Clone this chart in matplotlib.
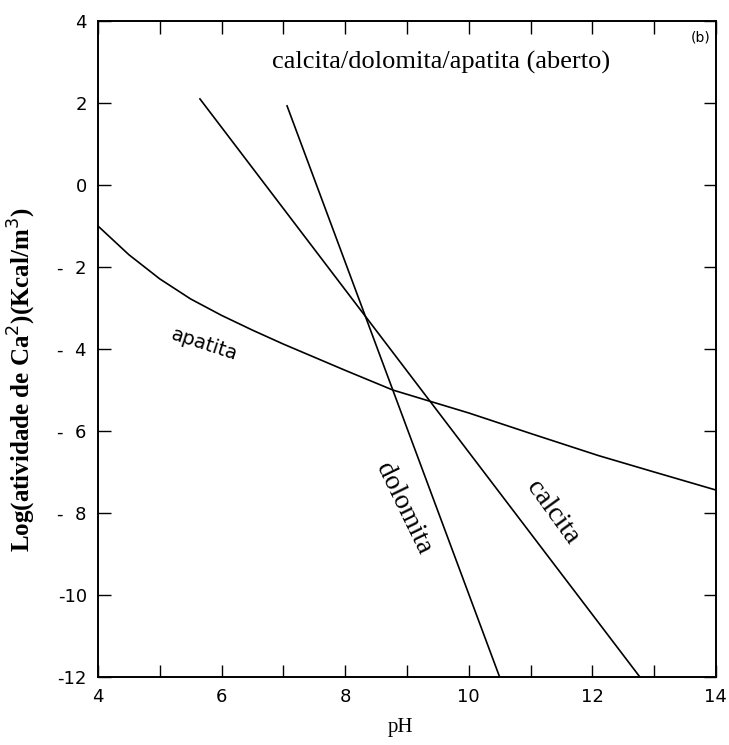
import matplotlib
matplotlib.use("Agg")
import matplotlib.pyplot as plt

# Data
apatita_x = [4.0, 4.5, 5.0, 5.5, 6.0, 6.5, 7.0, 7.5, 8.0, 8.77, 9.34, 10.0, 11.0, 12.1, 13.0, 14.0]
apatita_y = [-1.0, -1.70, -2.29, -2.78, -3.18, -3.54, -3.88, -4.2, -4.52, -5.0, -5.26, -5.56, -6.06, -6.6, -7.0, -7.44]
calcita_x = [5.65, 12.77]
calcita_y = [2.10, -12.0]
dolomita_x = [7.06, 10.5]
dolomita_y = [1.93, -12.0]

x_ticks = list(range(4, 15))
x_ticklabels = ["4", "", "6", "", "8", "", "10", "", "12", "", "14"]
y_ticks = [-12, -10, -8, -6, -4, -2, 0, 2, 4]
y_ticklabels = ["-12", "-10", "-  8", "-  6", "-  4", "-  2", "0", "2", "4"]

fig = plt.figure(figsize=(7.29, 7.45), dpi=100)
ax = fig.add_axes([0.1344, 0.0913, 0.8476, 0.8805])

lw = 1.2
ax.plot(apatita_x, apatita_y, color="black", lw=lw)
ax.plot(calcita_x, calcita_y, color="black", lw=lw)
ax.plot(dolomita_x, dolomita_y, color="black", lw=lw)

ax.set_xlim(4, 14)
ax.set_ylim(-12, 4)
ax.set_xticks(x_ticks)
ax.set_xticklabels(x_ticklabels, fontsize=13, family="DejaVu Sans")
ax.set_yticks(y_ticks)
ax.set_yticklabels(y_ticklabels, fontsize=13, family="DejaVu Sans")
ax.tick_params(direction="in", length=9, width=1.0, top=True, right=True, pad=8)
for s in ax.spines.values():
    s.set_linewidth(1.4)

serif = "Liberation Serif"
ax.text(9.56, 3.0, "calcita/dolomita/apatita (aberto)", family=serif, fontsize=19,
        ha="center", va="center")
ax.text(13.75, 3.6, "(b)", fontsize=10, ha="center", va="center")
ax.text(5.73, -3.9, "apatita", fontsize=14, rotation=-18, ha="center", va="center",
        family="DejaVu Sans")
ax.text(8.94, -7.9, "dolomita", family=serif, fontsize=20, rotation=-64,
        ha="center", va="center", rotation_mode="anchor")
ax.text(11.35, -7.98, "calcita", family=serif, fontsize=20, rotation=-54,
        ha="center", va="center", rotation_mode="anchor")

ax.set_xlabel("pH", family=serif, fontsize=15, va="center")
ax.xaxis.set_label_coords(0.489, -0.077)
fig.text(0.03, 0.49, "Log(atividade de Ca$^{2}$)(Kcal/m$^{3}$)", family=serif,
         fontweight="bold", fontsize=18, rotation=90, ha="center", va="center")

fig.savefig("out.png", dpi=100)
